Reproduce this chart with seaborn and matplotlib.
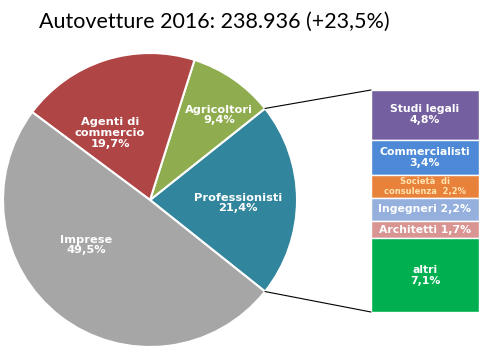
import matplotlib
matplotlib.use("Agg")
from matplotlib import pyplot as plt
from matplotlib.patches import ConnectionPatch
import numpy as np
import seaborn as sns

# pie data (counterclockwise from the right)
pie_labels = ["Professionisti", "Agricoltori", "Agenti di\ncommercio", "Imprese"]
pie_values = [21.4, 9.4, 19.7, 49.5]
pie_colors = ["#31859C", "#8FAD4F", "#B04545", "#A6A6A6"]

# breakdown of Professionisti (top to bottom)
bar_labels = ["Studi legali", "Commercialisti", "Società  di\nconsulenza  2,2%",
              "Ingegneri 2,2%", "Architetti 1,7%", "altri"]
bar_values = [4.8, 3.4, 2.2, 2.2, 1.7, 7.1]
bar_colors = ["#7460A0", "#4D89D6", "#E8823B", "#95B0DD", "#D99592", "#00B050"]

title = "Autovetture 2016: 238.936 (+23,5%)"

def fmt(v):
    return f"{v:.1f}%".replace(".", ",")

sns.set_style("white")
plt.rcParams['font.family'] = ['DejaVu Sans']

fig = plt.figure(figsize=(4.8, 3.6), dpi=100)

# pie axes, units = pixels
ax = fig.add_axes([0, 0, 1, 1])
ax.set_xlim(0, 480)
ax.set_ylim(0, 360)
ax.set_aspect("equal")
ax.axis("off")

cx, cy, r = 150, 160, 147
start = -pie_values[0] * 3.6 / 2
wedges, _ = ax.pie(pie_values, colors=pie_colors, startangle=start,
                   counterclock=True, center=(cx, cy), radius=r,
                   wedgeprops=dict(edgecolor="white", linewidth=1.5))
ax.set_xlim(0, 480)
ax.set_ylim(0, 360)

# label positions inside the slices
label_pos = [(238, 157), (219, 245), (110, 227), (86, 115)]
for lab, v, (x, y) in zip(pie_labels, pie_values, label_pos):
    ax.text(x, y, lab + "\n" + fmt(v), ha="center", va="center",
            color="white", fontsize=8.2, fontweight="bold", linespacing=1.1)

ax.text(214, 338, title, ha="center", va="center", fontsize=15.5,
        family="Lato", color="black")

# stacked bar axes
bx = fig.add_axes([371 / 480, 48 / 360, 108 / 480, 222 / 360])
bx.set_xlim(-0.5, 0.5)
total = sum(bar_values)
bx.set_ylim(0, total)
bx.axis("off")
top = total
for lab, v, c in zip(bar_labels, bar_values, bar_colors):
    bx.bar(0, v, bottom=top - v, width=1.0, color=c,
           edgecolor="white", linewidth=1.0)
    if "%" in lab:
        txt = lab
    else:
        txt = lab + "\n" + fmt(v)
    small = "consulenza" in lab
    bx.text(0, top - v / 2, txt, ha="center", va="center",
            color="#FFE3B0" if small else "white",
            fontsize=6 if small else 7.8, fontweight="bold", linespacing=1.1,
            clip_on=True)
    top -= v

# connector lines from the Professionisti slice to the bar
for ang, yb in [(np.deg2rad(start + pie_values[0] * 3.6), total),
                (np.deg2rad(start), 0)]:
    con = ConnectionPatch(xyA=(cx + r * np.cos(ang), cy + r * np.sin(ang)),
                          coordsA=ax.transData, xyB=(-0.5, yb),
                          coordsB=bx.transData, color="black", linewidth=0.8)
    fig.add_artist(con)

fig.savefig("out.png", dpi=100)
